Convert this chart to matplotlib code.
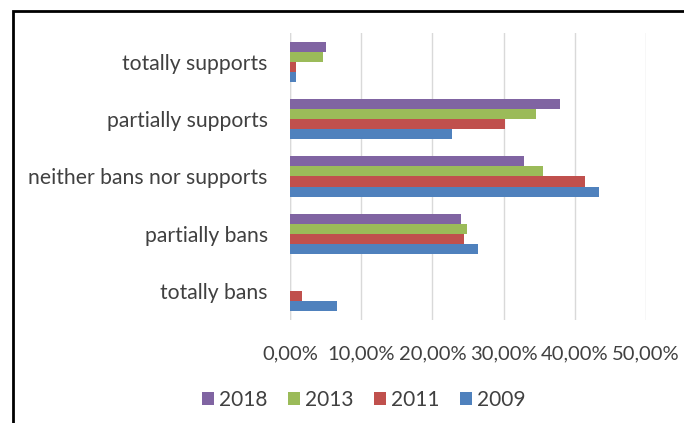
import matplotlib
matplotlib.use("Agg")
import matplotlib.pyplot as plt
from matplotlib.patches import Rectangle
from matplotlib.ticker import FuncFormatter
import numpy as np

categories = ["totally bans", "partially bans", "neither bans nor supports",
              "partially supports", "totally supports"]
years = ["2018", "2013", "2011", "2009"]
v2018 = [0.0, 24.0, 32.9, 37.9, 5.0]
v2013 = [0.0, 24.9, 35.5, 34.6, 4.7]
v2011 = [1.7, 24.5, 41.5, 30.2, 0.9]
v2009 = [6.6, 26.4, 43.4, 22.7, 0.9]
xticks = [0, 10, 20, 30, 40, 50]

colors = ["#8064A2", "#9BBB59", "#C0504D", "#4F81BD"]
series = [v2018, v2013, v2011, v2009]

plt.rcParams['font.family'] = ['Lato', 'DejaVu Sans']

fig = plt.figure(figsize=(6.84, 4.23), dpi=100)
ax = fig.add_axes([290/684, 1-320/423, (646-290)/684, (320-33)/423])

h = 0.175
y = np.arange(len(categories))
offsets = [1.5*h, 0.5*h, -0.5*h, -1.5*h]
for vals, col, off, lab in zip(series, colors, offsets, years):
    ax.barh(y + off, vals, height=h, color=col, label=lab, zorder=3)

ax.set_xlim(0, 50)
ax.set_ylim(-0.5, len(categories)-0.5)
ax.set_xticks(xticks)
ax.xaxis.set_major_formatter(FuncFormatter(lambda v, p: f"{v:.2f}".replace(".", ",") + "%"))
ax.set_yticks(y)
ax.set_yticklabels(categories)
ax.grid(axis='x', color='#D9D9D9', linewidth=1.0, zorder=0)
for s in ax.spines.values():
    s.set_visible(False)
ax.axvline(0, color='#D9D9D9', linewidth=1.0, zorder=1)
ax.tick_params(axis='y', length=0, labelsize=15.2, colors='#404040', pad=16)
ax.tick_params(axis='x', length=0, labelsize=14.5, colors='#404040', pad=18)

leg = fig.legend(loc='center', bbox_to_anchor=(364/684, 1-400/423), ncol=4, frameon=False,
                 fontsize=15, handlelength=0.55, handleheight=0.55, handletextpad=0.25,
                 columnspacing=1.0)
for t in leg.get_texts():
    t.set_color('#404040')

fig.add_artist(Rectangle((13/684, -0.1), 1.2, (423-11)/423 + 0.1, transform=fig.transFigure,
                         fill=False, edgecolor='black', linewidth=2.0))

fig.savefig("out.png", dpi=100)
